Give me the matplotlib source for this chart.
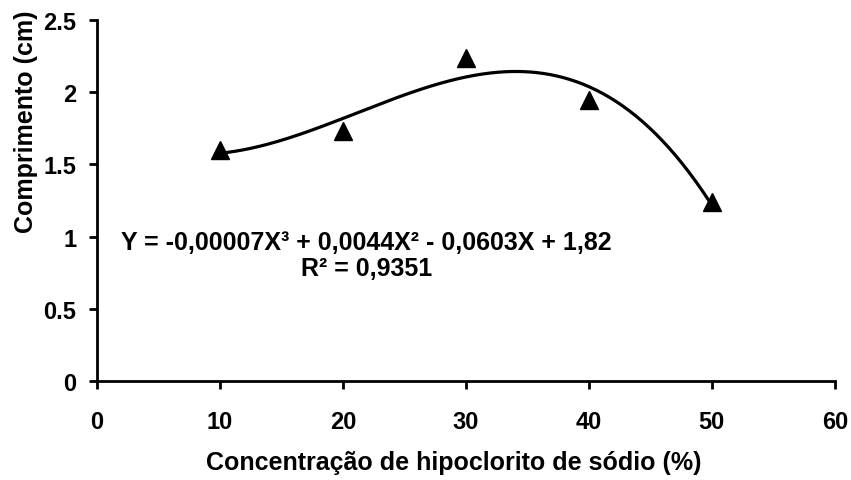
import matplotlib
matplotlib.use('Agg')
import matplotlib.pyplot as plt
import numpy as np

plt.rcParams['font.family'] = ['Liberation Sans', 'DejaVu Sans']
plt.rcParams['font.weight'] = 'bold'

# dados
concentracao = [10, 20, 30, 40, 50]
comprimento = [1.60, 1.73, 2.24, 1.95, 1.24]
xticks = [0, 10, 20, 30, 40, 50, 60]
yticks = [0, 0.5, 1, 1.5, 2, 2.5]
ytick_labels = ['0', '0.5', '1', '1.5', '2', '2.5']

# linha de tendência polinomial (ordem 3) ajustada aos pontos
coef = np.polyfit(concentracao, comprimento, 3)
xs = np.linspace(min(concentracao), max(concentracao), 300)
ys = np.polyval(coef, xs)

fig = plt.figure(figsize=(8.51, 4.81), dpi=100)
ax = fig.add_axes([0.114, 0.206, 0.867, 0.750])

ax.plot(xs, ys, color='black', linewidth=2.3, zorder=2)
ax.plot(concentracao, comprimento, '^', color='black', markersize=13, zorder=3)

ax.text(21.9, 0.96, 'Y = -0,00007X³ + 0,0044X² - 0,0603X + 1,82',
        ha='center', va='center', fontsize=18, fontweight='bold')
ax.text(21.9, 0.78, 'R² = 0,9351',
        ha='center', va='center', fontsize=18, fontweight='bold')

ax.set_xlim(0, 60)
ax.set_ylim(0, 2.5)
ax.set_xticks(xticks)
ax.set_yticks(yticks)
ax.set_yticklabels(ytick_labels)
ax.tick_params(axis='both', labelsize=17, width=2, length=6, direction='out')
ax.tick_params(axis='x', pad=15)
ax.tick_params(axis='y', pad=9)

for s in ['top', 'right']:
    ax.spines[s].set_visible(False)
for s in ['left', 'bottom']:
    ax.spines[s].set_linewidth(2)

ax.set_xlabel('Concentração de hipoclorito de sódio (%)', fontsize=18, fontweight='bold', labelpad=12)
ax.xaxis.label.set_x(0.484)
ax.set_ylabel('Comprimento (cm)', fontsize=18, fontweight='bold')
ax.yaxis.set_label_coords(-0.080, 0.72)

fig.savefig('out.png', dpi=100)
